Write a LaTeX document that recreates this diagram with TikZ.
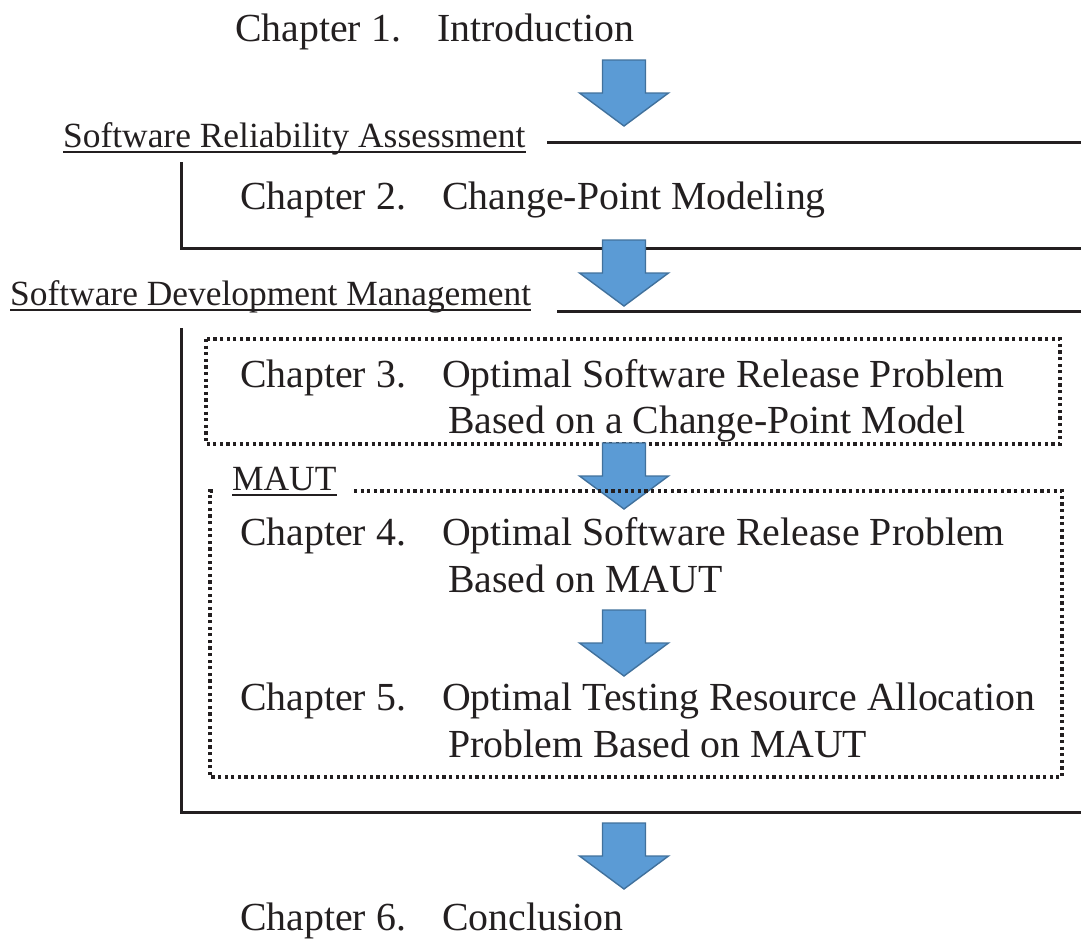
\documentclass[tikz,border=0pt]{standalone}
\usepackage{fontspec}
\setmainfont{Liberation Serif}
\definecolor{ink}{HTML}{231F20}
\definecolor{arrowfill}{HTML}{5B9BD5}
\definecolor{arrowedge}{HTML}{41719C}
\tikzset{
  chap/.style={anchor=base west, inner sep=0pt, text=ink, font=\fontsize{39.8}{48}\selectfont},
  part/.style={anchor=base west, inner sep=0pt, text=ink, font=\fontsize{35.4}{42}\selectfont},
  frameline/.style={draw=ink, line width=3pt},
  dotline/.style={draw=ink, line width=3.2pt, dash pattern=on 3.2pt off 3.4pt},
  blockarrow/.style={fill=arrowfill, draw=arrowedge, line width=1.4pt, line join=miter},
  downarrow/.pic={\path[blockarrow] (-21.5,0) -- (21.5,0) -- (21.5,33) -- (44.5,33)
      -- (0,66) -- (-44.5,33) -- (-21.5,33) -- cycle;}
}
\begin{document}
\begin{tikzpicture}[x=1pt, y=-1pt]
\useasboundingbox (0,0) rectangle (1081,938);

% Chapter 1
\node[chap] (c1a) at (235,41) {Chapter 1.};
\node[chap] (c1b) at (437,41) {Introduction};
\pic at (624,60) {downarrow};

% Part: Software Reliability Assessment
\node[part] (sra) at (63,147) {Software Reliability Assessment};
\draw[ink, line width=1.6pt] ([yshift=-5pt]sra.base west) -- ([yshift=-5pt]sra.base east);
\coordinate (f1a) at (547,142);
\coordinate (f1b) at (1081,142);
\coordinate (f1c) at (181,162);
\coordinate (f1d) at (181,248);
\coordinate (f1e) at (1081,248);
\draw[frameline] (f1a) -- (f1b);
\draw[frameline] (f1c) -- (f1d) -- (f1e);

% Chapter 2
\node[chap] (c2a) at (240,209) {Chapter 2.};
\node[chap] (c2b) at (442,209) {Change-Point Modeling};
\pic at (624,240) {downarrow};

% Part: Software Development Management
\node[part] (sdm) at (10,305) {Software Development Management};
\draw[ink, line width=1.6pt] ([yshift=-5pt]sdm.base west) -- ([yshift=-5pt]sdm.base east);
\coordinate (f2a) at (557,311);
\coordinate (f2b) at (1081,311);
\coordinate (f2c) at (181,328);
\coordinate (f2d) at (181,812);
\coordinate (f2e) at (1081,812);
\draw[frameline] (f2a) -- (f2b);
\draw[frameline] (f2c) -- (f2d) -- (f2e);

% Chapter 3 (dotted box)
\coordinate (b1nw) at (206,339);
\coordinate (b1se) at (1060,444);
\draw[dotline] (b1nw) rectangle (b1se);
\node[chap] (c3a) at (240,387) {Chapter 3.};
\node[chap] (c3b) at (442,387) {Optimal Software Release Problem};
\node[chap] (c3c) at (448,433) {Based on a Change-Point Model};
\pic at (624,443) {downarrow};

% MAUT group (dotted box)
\node[part] (maut) at (232,490) {MAUT};
\draw[ink, line width=1.6pt] ([yshift=-5pt]maut.base west) -- ([yshift=-5pt]maut.base east);
\coordinate (b2a) at (354,491);
\coordinate (b2b) at (1062,491);
\coordinate (b2c) at (1062,777);
\coordinate (b2d) at (210,777);
\coordinate (b2e) at (210,491);
\coordinate (b2f) at (216,491);
\draw[dotline] (b2a) -- (b2b) -- (b2c) -- (b2d) -- (b2e) -- (b2f);

% Chapter 4
\node[chap] (c4a) at (240,545) {Chapter 4.};
\node[chap] (c4b) at (442,545) {Optimal Software Release Problem};
\node[chap] (c4c) at (448,592) {Based on MAUT};
\pic at (624,610) {downarrow};

% Chapter 5
\node[chap] (c5a) at (240,710) {Chapter 5.};
\node[chap] (c5b) at (442,710) {Optimal Testing Resource Allocation};
\node[chap] (c5c) at (448,757) {Problem Based on MAUT};

% Chapter 6
\pic at (624,823) {downarrow};
\node[chap] (c6a) at (240,930) {Chapter 6.};
\node[chap] (c6b) at (442,930) {Conclusion};
\end{tikzpicture}
\end{document}
